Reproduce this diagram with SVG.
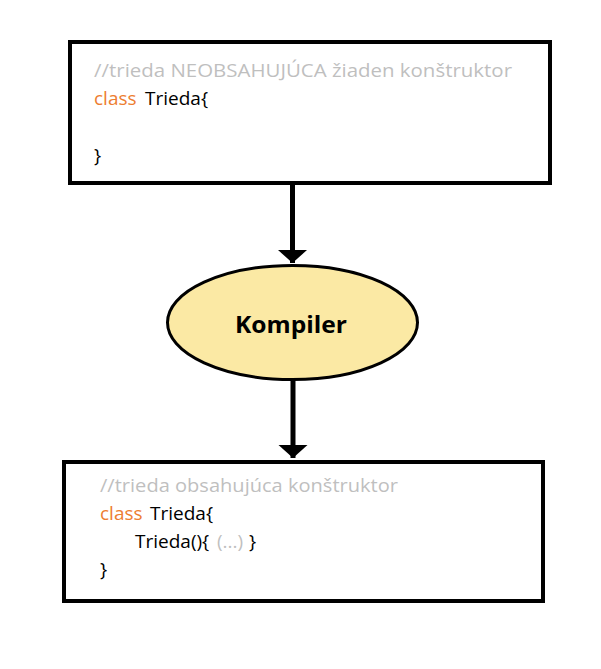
<svg xmlns="http://www.w3.org/2000/svg" width="601" height="669" viewBox="0 0 601 669">
<style>
.box{fill:#fff;stroke:#000;stroke-width:4}
.code{font-family:"Open Sans","Noto Sans","DejaVu Sans",sans-serif;font-size:19px;fill:#000}
.cm{fill:#BFBFBF}
.kw{fill:#ED7D31}
.conn{stroke:#000;stroke-width:5;fill:none}
.lbl{font-family:"Open Sans","Noto Sans",sans-serif;font-size:24px;font-weight:bold;fill:#000;text-anchor:middle}
</style>
<defs>
<marker id="ah" markerUnits="userSpaceOnUse" markerWidth="14" markerHeight="30" refX="13" refY="14.5" orient="auto" overflow="visible">
<path d="M0,0 L13,14.5 L0,29 z" fill="#000"/>
</marker>
</defs>
<rect width="601" height="669" fill="#fff"/>
<g id="connectors">
<line class="conn" x1="292.5" y1="184" x2="292.5" y2="263" marker-end="url(#ah)"/>
<line class="conn" x1="293" y1="380" x2="293" y2="458" marker-end="url(#ah)"/>
</g>
<g id="source">
<rect class="box" x="70" y="42" width="480" height="141"/>
<text class="code cm" x="94" y="77" textLength="418" lengthAdjust="spacingAndGlyphs">//trieda NEOBSAHUJÚCA žiaden konštruktor</text>
<text class="code" y="105"><tspan class="kw" x="94">class</tspan><tspan x="145">Trieda{</tspan></text>
<text class="code" x="94" y="162">}</text>
</g>
<g id="compiler">
<ellipse cx="292.5" cy="322.5" rx="125" ry="57" fill="#FBE9A4" stroke="#000" stroke-width="3"/>
<text class="lbl" x="291" y="333" textLength="112" lengthAdjust="spacingAndGlyphs">Kompiler</text>
</g>
<g id="result">
<rect class="box" x="64" y="462" width="479" height="139"/>
<text class="code cm" x="100" y="492" textLength="298" lengthAdjust="spacingAndGlyphs">//trieda obsahujúca konštruktor</text>
<text class="code" y="520"><tspan class="kw" x="100">class</tspan><tspan x="150">Trieda{</tspan></text>
<text class="code" y="548"><tspan x="135">Trieda(){</tspan><tspan class="cm" x="217">(...)</tspan><tspan x="249">}</tspan></text>
<text class="code" x="100" y="576">}</text>
</g>
</svg>
